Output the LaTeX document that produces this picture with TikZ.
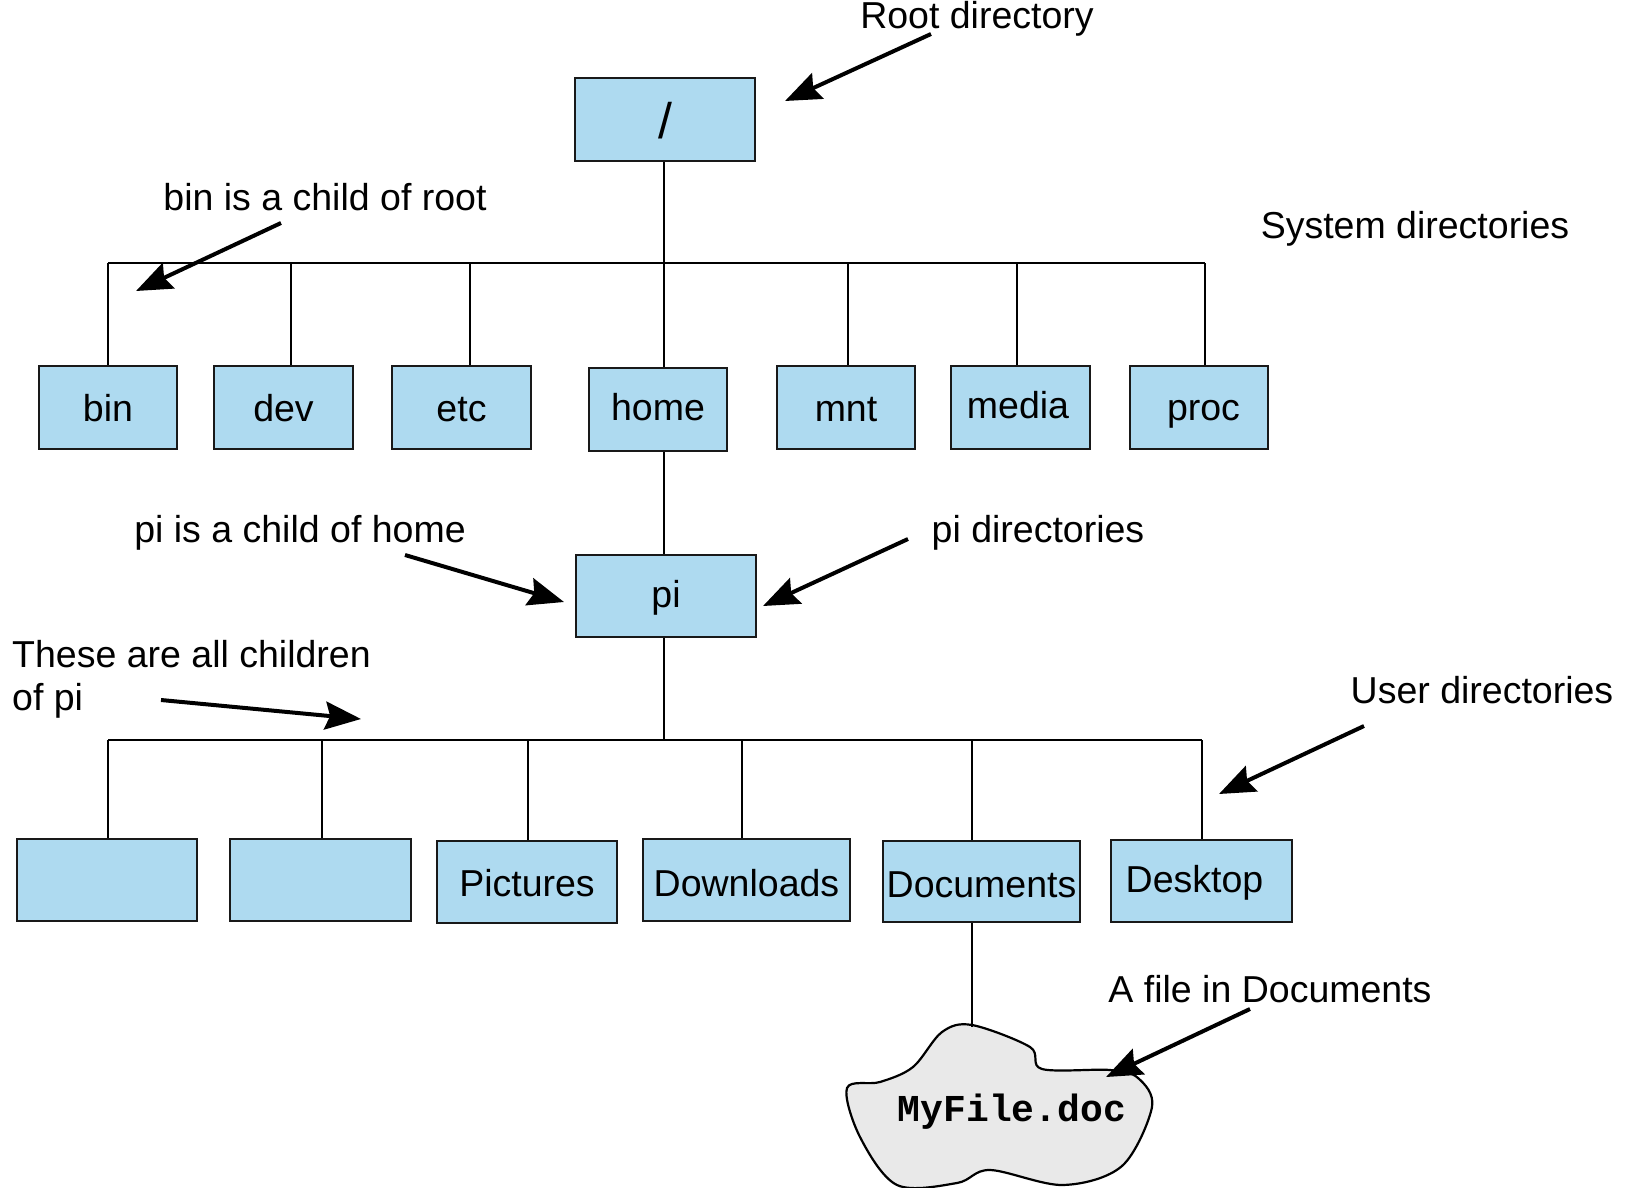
\documentclass[tikz,border=0pt]{standalone}
\usepackage{fontspec}
\setmainfont{Liberation Sans}
\newfontfamily\monob{Liberation Mono}
\usetikzlibrary{arrows.meta}
\definecolor{boxblue}{RGB}{174,218,240}
\definecolor{cloudgray}{RGB}{233,233,233}
\begin{document}
\begin{tikzpicture}[x=1pt,y=-1pt,
  dirbox/.style={draw=black!90, line width=2.7pt, fill=boxblue, inner sep=0pt,
     font=\fontsize{37.5}{40}\selectfont, text depth=0pt, text height=2*#1},
  dirbox/.default=13pt,
  lbl/.style={font=\fontsize{37.5}{43.5}\selectfont, inner sep=0pt},
  conn/.style={line width=2.6pt},
  arr/.style={line width=4pt, -{Stealth[length=36pt,width=28pt,inset=5pt]}}]
\useasboundingbox (0,0) rectangle (1627,1188);

% boxes
\node[dirbox=19.5pt, minimum width=180, minimum height=83, font=\fontsize{50}{50}\selectfont] (root) at (665,119.5) {/};
\node[dirbox=14pt, minimum width=138, minimum height=83] (bin) at (108,407.5) {bin};
\node[dirbox=14pt, minimum width=139, minimum height=83] (dev) at (283.5,407.5) {dev};
\node[dirbox=13.5pt, minimum width=139, minimum height=83] (etc) at (461.5,407.5) {etc};
\node[dirbox=10.5pt, minimum width=138, minimum height=83] (home) at (658,409.5) {home};
\node[dirbox=14pt, minimum width=138, minimum height=83] (mnt) at (846,407.5) {mnt};
\node[dirbox=11pt, minimum width=139, minimum height=83] (media) at (1020.5,407.5) {media\kern5pt};
\node[dirbox=13pt, minimum width=138, minimum height=83] (proc) at (1199,407.5) {\kern9pt proc};
\node[dirbox=11pt, minimum width=180, minimum height=82] (pi) at (666,596) {pi};
\node[dirbox, minimum width=180, minimum height=82] (u1) at (107,880) {};
\node[dirbox, minimum width=181, minimum height=82] (u2) at (320.5,880) {};
\node[dirbox=14pt, minimum width=180, minimum height=82] (pictures) at (527,882) {Pictures};
\node[dirbox=16.5pt, minimum width=207, minimum height=82] (downloads) at (746.5,880) {Downloads};
\node[dirbox=16pt, minimum width=197, minimum height=81] (documents) at (981.5,881.5) {Documents};
\node[dirbox=11pt, minimum width=181, minimum height=82] (desktop) at (1201.5,881) {Desktop\kern14pt};

% system bar
\coordinate (s1) at (108,263);
\coordinate (s2) at (291,263);
\coordinate (s3) at (470,263);
\coordinate (s4) at (664,263);
\coordinate (s5) at (848,263);
\coordinate (s6) at (1017,263);
\coordinate (s7) at (1205,263);
\draw[conn] (s1) -- (s7);
\draw[conn] (root.south -| s4) -- (s4);
\draw[conn] (s1) -- (s1 |- bin.north);
\draw[conn] (s2) -- (s2 |- dev.north);
\draw[conn] (s3) -- (s3 |- etc.north);
\draw[conn] (s4) -- (s4 |- home.north);
\draw[conn] (s5) -- (s5 |- mnt.north);
\draw[conn] (s6) -- (s6 |- media.north);
\draw[conn] (s7) -- (s7 |- proc.north);
\draw[conn] (home.south -| s4) -- (s4 |- pi.north);

% user bar
\coordinate (t1) at (108,740);
\coordinate (t2) at (322,740);
\coordinate (t3) at (528,740);
\coordinate (t4) at (664,740);
\coordinate (t5) at (742,740);
\coordinate (t6) at (972,740);
\coordinate (t7) at (1202,740);
\draw[conn] (t1) -- (t7);
\draw[conn] (pi.south -| t4) -- (t4);
\draw[conn] (t1) -- (t1 |- u1.north);
\draw[conn] (t2) -- (t2 |- u2.north);
\draw[conn] (t3) -- (t3 |- pictures.north);
\draw[conn] (t5) -- (t5 |- downloads.north);
\draw[conn] (t6) -- (t6 |- documents.north);
\draw[conn] (t7) -- (t7 |- desktop.north);

% cloud file
\coordinate (cloudtop) at (972,1027);
\draw[line width=2.2pt, fill=cloudgray] plot[smooth cycle, tension=0.55] coordinates {
  (972,1025) (1030,1047) (1042,1069) (1110,1070) (1138,1078) (1152,1107)
  (1122,1166) (1063,1185) (990,1170) (957,1183) (897,1185) (860,1137)
  (847,1088) (880,1082) (913,1067) (942,1032)};
\draw[conn] (documents.south -| cloudtop) -- (cloudtop);
\node[font=\monob\bfseries\fontsize{38}{40}\selectfont, inner sep=0pt] (myfile) at (1012,1112) {MyFile.doc};

% labels
\node[lbl, anchor=base] (lroot) at (977,28.5) {Root directory};
\node[lbl] (lbin) at (325,197) {bin is a child of root};
\node[lbl] (lsys) at (1415,229) {System directories};
\node[lbl] (lpih) at (300,533) {pi is a child of home};
\node[lbl] (lpid) at (1038,533) {pi directories};
\node[lbl, align=left, anchor=north west] (lchild) at (12,640) {These are all children\\of pi};
\node[lbl] (luser) at (1482,690) {User directories};
\node[lbl] (lfile) at (1270,989) {A file in Documents};

% arrows
\coordinate (a1s) at (931,34);   \coordinate (a1e) at (785,101);
\coordinate (a2s) at (281,223);  \coordinate (a2e) at (136,291);
\coordinate (a3s) at (405,555);  \coordinate (a3e) at (564,602);
\coordinate (a4s) at (908,539);  \coordinate (a4e) at (763,606);
\coordinate (a5s) at (161,700);  \coordinate (a5e) at (361,719);
\coordinate (a6s) at (1364,726); \coordinate (a6e) at (1219,794);
\coordinate (a7s) at (1250,1009);\coordinate (a7e) at (1106,1077);
\draw[arr] (a1s) -- (a1e);
\draw[arr] (a2s) -- (a2e);
\draw[arr] (a3s) -- (a3e);
\draw[arr] (a4s) -- (a4e);
\draw[arr] (a5s) -- (a5e);
\draw[arr] (a6s) -- (a6e);
\draw[arr] (a7s) -- (a7e);
\end{tikzpicture}
\end{document}
